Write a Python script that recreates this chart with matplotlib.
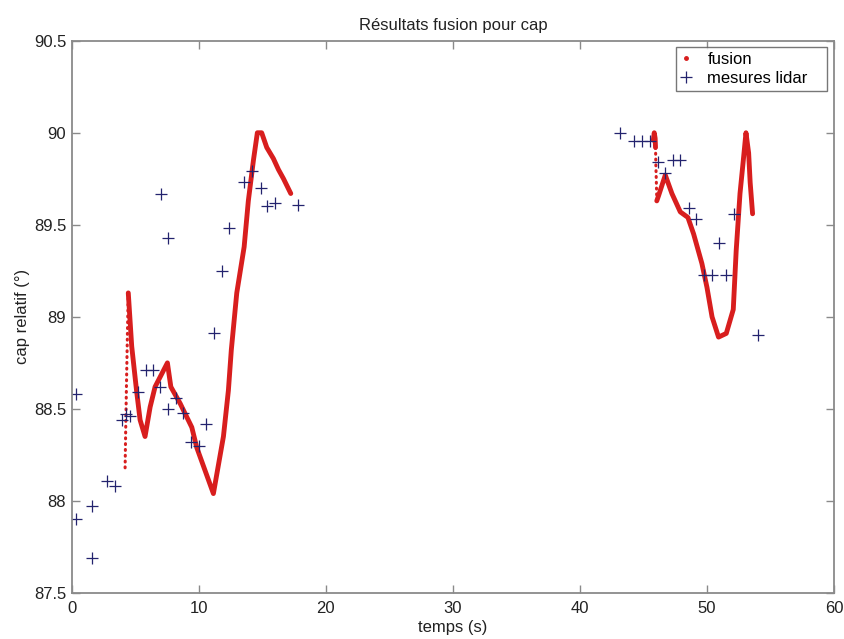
import matplotlib
matplotlib.use("Agg")
import matplotlib.pyplot as plt
from matplotlib.lines import Line2D

plt.rcParams['font.family'] = ['Liberation Sans', 'DejaVu Sans']

# mesures lidar (temps en s, cap en degres)
lidar_t = [0.34, 0.34, 1.57, 1.57, 2.8, 3.41, 3.96, 4.3, 4.59, 5.25, 5.85, 6.38,
           6.95, 7.0, 7.56, 7.56, 8.19, 8.79, 9.39, 10.05, 10.57, 11.23, 11.81,
           12.39, 13.57, 14.2, 14.88, 15.35, 16.0, 17.84,
           43.12, 44.22, 44.88, 45.48, 46.11, 46.66, 47.32, 47.9, 48.55, 49.16,
           49.79, 50.36, 50.91, 51.52, 52.15, 53.98]
lidar_cap = [88.58, 87.9, 87.97, 87.69, 88.11, 88.08, 88.44, 88.47, 88.46, 88.59,
             88.71, 88.71, 88.62, 89.67, 89.43, 88.5, 88.56, 88.48, 88.32, 88.3,
             88.42, 88.91, 89.25, 89.48, 89.73, 89.79, 89.7, 89.6, 89.62, 89.61,
             90.0, 89.955, 89.955, 89.955, 89.84, 89.78, 89.85, 89.85, 89.59, 89.53,
             89.23, 89.23, 89.4, 89.23, 89.56, 88.9]

# fusion, partie 1
fus1_trans_t = [4.2, 4.25, 4.3, 4.38, 4.45]
fus1_trans_cap = [88.18, 88.4, 88.6, 88.9, 89.13]
fus1_t = [4.45, 4.72, 5.1, 5.38, 5.77, 6.17, 6.56, 7.53, 7.8, 8.53, 9.45, 9.84,
          11.15, 11.94, 12.33, 12.56, 12.99, 13.57, 13.9, 14.3, 14.61,
          14.95, 15.35, 15.87, 16.27, 16.67, 17.24]
fus1_cap = [89.13, 88.84, 88.6, 88.44, 88.35, 88.51, 88.62, 88.75, 88.62, 88.53,
            88.4, 88.29, 88.04, 88.35, 88.6, 88.82, 89.13, 89.38, 89.63,
            89.85, 90.0, 90.0, 89.92, 89.86, 89.8, 89.75, 89.67]

# fusion, partie 2
fus2_a_t = [45.78, 45.85, 45.92, 45.95]
fus2_a_cap = [89.96, 90.0, 89.97, 89.92]
fus2_trans_t = [45.95, 45.98, 46.02, 46.05]
fus2_trans_cap = [89.92, 89.82, 89.72, 89.64]
fus2_t = [46.05, 46.2, 46.72, 47.24, 47.9, 48.5, 48.95, 49.6, 50.0, 50.4, 50.91,
          51.52, 52.07, 52.3, 52.6, 52.86, 53.07, 53.28, 53.4, 53.59]
fus2_cap = [89.63, 89.66, 89.77, 89.67, 89.57, 89.54, 89.45, 89.29, 89.16, 89.0,
            88.89, 88.91, 89.04, 89.36, 89.67, 89.85, 90.0, 89.89, 89.73, 89.56]

rouge = '#d81e1e'
bleu = '#23236e'
gris = '#8a8a8a'
fs = 12

fig = plt.figure(figsize=(8.45, 6.39), dpi=100)
ax = fig.add_axes([0.0849, 0.072, 0.9021, 0.8643])

ax.plot(fus1_t, fus1_cap, color=rouge, lw=3.5, solid_capstyle='round', solid_joinstyle='round')
ax.plot(fus1_trans_t, fus1_trans_cap, color=rouge, lw=2.2, ls=(0, (0.3, 1.6)), dash_capstyle='round')
ax.plot(fus2_a_t, fus2_a_cap, color=rouge, lw=3.5, solid_capstyle='round')
ax.plot(fus2_trans_t, fus2_trans_cap, color=rouge, lw=2.2, ls=(0, (0.3, 1.6)), dash_capstyle='round')
ax.plot(fus2_t, fus2_cap, color=rouge, lw=3.5, solid_capstyle='round', solid_joinstyle='round')

ax.plot(lidar_t, lidar_cap, ls='none', marker='+', ms=8, mew=0.9, color=bleu)

ax.set_xlim(0, 60)
ax.set_ylim(87.5, 90.5)
ax.set_xticks([0, 10, 20, 30, 40, 50, 60])
ax.set_yticks([87.5, 88, 88.5, 89, 89.5, 90, 90.5])
ax.set_yticklabels(['87.5', '88', '88.5', '89', '89.5', '90', '90.5'])
ax.tick_params(direction='in', top=True, right=True, length=6, width=1,
               color=gris, labelsize=fs, labelcolor='#222222')
ax.tick_params(axis='x', pad=6)
ax.tick_params(axis='y', pad=4)
for s in ax.spines.values():
    s.set_color(gris)
    s.set_linewidth(1.3)

ax.set_title('Résultats fusion pour cap', fontsize=fs, color='#222222', pad=8)
ax.set_xlabel('temps (s)', fontsize=fs, color='#222222', labelpad=3)
ax.set_ylabel('cap relatif (°)', fontsize=fs, color='#222222', labelpad=3)

handles = [Line2D([], [], ls='none', marker='.', ms=5, color=rouge),
           Line2D([], [], ls='none', marker='+', ms=8, mew=0.9, color=bleu)]
leg = ax.legend(handles, ['fusion', 'mesures lidar'], loc='upper left',
                bbox_to_anchor=(0.7927, 0.5, 0.198, 0.4886), mode='expand',
                borderaxespad=0, fancybox=False, fontsize=fs,
                handlelength=0.6, handletextpad=1.0,
                labelspacing=0.26, borderpad=0.28)
leg.get_frame().set_edgecolor('#555555')
leg.get_frame().set_linewidth(1.0)

fig.savefig('out.png', dpi=100)
